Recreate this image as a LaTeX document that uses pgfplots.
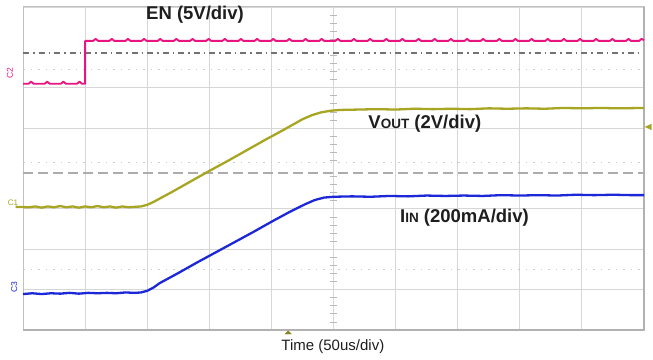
\documentclass[border=0pt]{standalone}
\usepackage{pgfplots}
\pgfplotsset{compat=1.18}
\usepackage{fontspec}
\setmainfont{Liberation Sans}
\definecolor{enc}{RGB}{232,20,128}
\definecolor{voc}{RGB}{168,165,35}
\definecolor{iic}{RGB}{28,40,215}
\definecolor{gridc}{RGB}{214,214,214}
\definecolor{txt}{RGB}{30,30,30}
\begin{document}
\begin{tikzpicture}[x=1pt,y=1pt]
\useasboundingbox (0,0) rectangle (653,359);
\begin{axis}[
  at={(23pt,29pt)}, anchor=south west, scale only axis,
  width=621pt, height=323pt,
  xmin=0, xmax=10, ymin=0, ymax=8,
  xtick={0,...,10}, ytick={0,1,2,3,5,6,8},
  xticklabels={}, yticklabels={},
  major tick length=0pt,
  grid=major, grid style={color=gridc, line width=0.9pt},
  axis line style={color=gridc!90!black, line width=1pt},
  clip=false,
]
% reference lines
\addplot[color=gray!90!black, line width=1.1pt, dash pattern=on 6pt off 4pt on 1.5pt off 4pt] coordinates {(0,6.86) (10,6.86)};
\addplot[color=gray!40, line width=0.8pt, dash pattern=on 1.5pt off 6pt] coordinates {(0,6.46) (10,6.46)};
\addplot[color=gray!40, line width=0.8pt, dash pattern=on 1.5pt off 6pt] coordinates {(0,4.16) (10,4.16)};
\addplot[color=gray!65, line width=1.3pt, dash pattern=on 10pt off 5pt] coordinates {(0,3.89) (10,3.89)};
\addplot[color=gray!40, line width=0.8pt, dash pattern=on 1.5pt off 6pt] coordinates {(0,1.51) (10,1.51)};
\pgfplotsinvokeforeach{0.2,0.4,0.6,0.8,1.2,1.4,1.6,1.8,2.2,2.4,2.6,2.8,3.2,3.4,3.6,3.8,4.2,4.4,4.6,4.8,5.2,5.4,5.6,5.8,6.2,6.4,6.6,6.8,7.2,7.4,7.6,7.8}{
  \draw[gray!55, line width=0.8pt] (axis cs:4.95,#1) -- (axis cs:5.05,#1);
}
\draw[gray!60, line width=1.2pt] (axis cs:10,0) -- (axis cs:10,8);
\draw[gray!60, line width=1.2pt] (axis cs:0,0) -- (axis cs:10,0);
% EN trace
\addplot[color=enc, line width=1.9pt, line join=round] coordinates {
(0,6.10) (0.09,6.10)(0.13,6.15)(0.17,6.10) (0.35,6.10)(0.39,6.15)(0.43,6.10)
(0.61,6.10)(0.65,6.15)(0.69,6.10) (0.87,6.10)(0.91,6.15)(0.95,6.10) (1.0,6.10) (1.0,7.16)
(1.13,7.16)(1.17,7.21)(1.21,7.16) (1.39,7.16)(1.43,7.21)(1.47,7.16)
(1.65,7.16)(1.69,7.21)(1.73,7.16) (1.91,7.16)(1.95,7.21)(1.99,7.16)
(2.17,7.16)(2.21,7.21)(2.25,7.16) (2.43,7.16)(2.47,7.21)(2.51,7.16)
(2.69,7.16)(2.73,7.21)(2.77,7.16) (2.95,7.16)(2.99,7.21)(3.03,7.16)
(3.21,7.16)(3.25,7.21)(3.29,7.16) (3.47,7.16)(3.51,7.21)(3.55,7.16)
(3.73,7.16)(3.77,7.21)(3.81,7.16) (3.99,7.16)(4.03,7.21)(4.07,7.16)
(4.25,7.16)(4.29,7.21)(4.33,7.16) (4.51,7.16)(4.55,7.21)(4.59,7.16)
(4.77,7.16)(4.81,7.21)(4.85,7.16) (5.03,7.16)(5.07,7.21)(5.11,7.16)
(5.29,7.16)(5.33,7.21)(5.37,7.16) (5.55,7.16)(5.59,7.21)(5.63,7.16)
(5.81,7.16)(5.85,7.21)(5.89,7.16) (6.07,7.16)(6.11,7.21)(6.15,7.16)
(6.33,7.16)(6.37,7.21)(6.41,7.16) (6.59,7.16)(6.63,7.21)(6.67,7.16)
(6.85,7.16)(6.89,7.21)(6.93,7.16) (7.11,7.16)(7.15,7.21)(7.19,7.16)
(7.37,7.16)(7.41,7.21)(7.45,7.16) (7.63,7.16)(7.67,7.21)(7.71,7.16)
(7.89,7.16)(7.93,7.21)(7.97,7.16) (8.15,7.16)(8.19,7.21)(8.23,7.16)
(8.41,7.16)(8.45,7.21)(8.49,7.16) (8.67,7.16)(8.71,7.21)(8.75,7.16)
(8.93,7.16)(8.97,7.21)(9.01,7.16) (9.19,7.16)(9.23,7.21)(9.27,7.16)
(9.45,7.16)(9.49,7.21)(9.53,7.16) (9.71,7.16)(9.75,7.21)(9.79,7.16)
(9.92,7.16)(9.96,7.21)(10,7.18)
};
% VOUT trace
\addplot[color=voc, line width=2.3pt, line join=round] coordinates {
(-0.12,3.05)(0.1,3.04)(0.2,3.06)(0.3,3.03)(0.4,3.06)(0.5,3.04)(0.6,3.07)(0.7,3.04)(0.8,3.06)
(0.9,3.03)(1.0,3.06)(1.1,3.04)(1.2,3.07)(1.3,3.04)(1.4,3.06)(1.5,3.03)(1.6,3.06)(1.7,3.04)
(1.8,3.05)(1.9,3.06)(2.0,3.10)(2.1,3.17)(2.4,3.42)(2.7,3.68)(3.0,3.94)(3.3,4.19)(3.6,4.45)
(3.9,4.71)(4.2,4.96)(4.5,5.22)(4.65,5.32)(4.8,5.39)(4.95,5.43)(5.1,5.45)(5.4,5.46)(5.7,5.47)
(6.0,5.46)(6.3,5.48)(6.6,5.47)(6.9,5.48)(7.2,5.47)(7.5,5.49)(7.8,5.48)(8.1,5.49)(8.4,5.48)
(8.7,5.50)(9.0,5.49)(9.3,5.50)(9.6,5.49)(10,5.50)
};
% IIN trace
\addplot[color=iic, line width=2.3pt, line join=round] coordinates {
(0,0.89)(0.15,0.91)(0.3,0.89)(0.45,0.91)(0.6,0.90)(0.75,0.92)(0.9,0.90)(1.05,0.92)(1.2,0.91)
(1.35,0.92)(1.5,0.91)(1.65,0.93)(1.8,0.92)(1.9,0.93)(2.0,0.97)(2.1,1.05)(2.2,1.16)(2.5,1.41)
(2.8,1.67)(3.1,1.92)(3.4,2.17)(3.7,2.42)(4.0,2.68)(4.3,2.93)(4.55,3.12)(4.7,3.22)(4.85,3.28)
(5.0,3.30)(5.3,3.31)(5.6,3.30)(5.9,3.32)(6.2,3.31)(6.5,3.33)(6.8,3.32)(7.1,3.33)(7.4,3.32)
(7.7,3.34)(8.0,3.33)(8.3,3.34)(8.6,3.33)(8.9,3.35)(9.2,3.34)(9.5,3.35)(9.8,3.34)(10,3.34)
};
% markers
\draw[fill=voc, draw=voc] (axis cs:10.02,5.03) -- (axis cs:10.12,5.10) -- (axis cs:10.12,4.96) -- cycle;
\draw[fill=voc!80!black, draw=voc!80!black] (axis cs:4.27,-0.02) -- (axis cs:4.22,-0.10) -- (axis cs:4.32,-0.10) -- cycle;
\node[color=enc, rotate=90, font=\fontsize{8.5}{8.5}\selectfont, inner sep=0pt] at (axis cs:-0.21,6.37) {C2};
\node[color=voc, font=\fontsize{8}{8}\selectfont, inner sep=0pt] at (axis cs:-0.16,3.16) {C1};
\node[color=iic, rotate=90, font=\fontsize{8.5}{8.5}\selectfont, inner sep=0pt] at (axis cs:-0.14,1.06) {C3};
% labels
\node[color=txt, font=\fontsize{18.5}{20}\selectfont\bfseries] at (axis cs:2.77,7.80) {EN (5V/div)};
\node[color=txt, anchor=west, inner sep=0pt, font=\fontsize{18.5}{20}\selectfont\bfseries] at (axis cs:5.56,5.10) {V{\fontsize{13.5}{14}\selectfont OUT} (2V/div)};
\node[color=txt, anchor=west, inner sep=0pt, font=\fontsize{18.5}{20}\selectfont\bfseries] at (axis cs:6.07,2.77) {I{\fontsize{13.5}{14}\selectfont IN} (200mA/div)};
\node[color=txt, font=\fontsize{15}{16}\selectfont] at (axis cs:4.99,-0.42) {Time (50us/div)};
\end{axis}
\end{tikzpicture}
\end{document}
